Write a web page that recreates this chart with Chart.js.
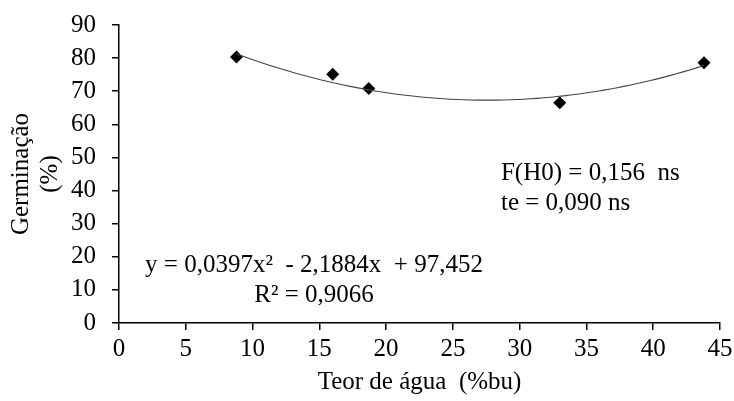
<!DOCTYPE html>
<html>
<head>
<meta charset="utf-8">
<script src="https://cdn.jsdelivr.net/npm/chart.js@4/dist/chart.umd.min.js"></script>
<style>
  html, body { margin: 0; padding: 0; background: #fff; }
  #wrap { width: 734px; height: 401px; position: relative; }
</style>
</head>
<body>
<div id="wrap"><canvas id="c"></canvas></div>
<script>
  // germination vs. seed water content, with the fitted quadratic
  var waterContent = [8.8, 16.0, 18.7, 33.0, 43.8];
  var germination = [80.3, 75.1, 70.8, 66.5, 78.6];
  // y = c0 + c1*x + c2*x^2 (coefficients as printed on the chart)
  var trendCoef = [97.452, -2.1884, 0.0397];
  var xTicks = [0, 5, 10, 15, 20, 25, 30, 35, 40, 45];
  var yTicks = [0, 10, 20, 30, 40, 50, 60, 70, 80, 90];

  var eqLabel = 'y = 0,0397x²  - 2,1884x  + 97,452';
  var r2Label = 'R² = 0,9066';
  var statLabels = ['F(H0) = 0,156  ns', 'te = 0,090 ns'];

  var FONT = '"Liberation Serif", "Times New Roman", serif';
  var FS = 25;

  function trendAt(x) {
    return trendCoef[0] + trendCoef[1] * x + trendCoef[2] * x * x;
  }

  // trendline spans the measured range only
  var trendPts = [];
  var x0 = waterContent[0], x1 = waterContent[waterContent.length - 1];
  for (var i = 0; i <= 70; i++) {
    var x = x0 + (x1 - x0) * i / 70;
    trendPts.push({ x: x, y: trendAt(x) });
  }

  var points = waterContent.map(function (x, i) { return { x: x, y: germination[i] }; });

  // text annotations placed in data coordinates
  var notes = {
    id: 'notes',
    afterDatasetsDraw: function (chart) {
      var ctx = chart.ctx, xs = chart.scales.x, ys = chart.scales.y;
      ctx.save();
      ctx.font = FS + 'px ' + FONT;
      ctx.fillStyle = '#000';
      ctx.textBaseline = 'middle';
      ctx.textAlign = 'center';
      ctx.fillText(eqLabel, xs.getPixelForValue(14.6), ys.getPixelForValue(17.5));
      ctx.fillText(r2Label, xs.getPixelForValue(14.6), ys.getPixelForValue(8.4));
      ctx.textAlign = 'left';
      ctx.fillText(statLabels[0], xs.getPixelForValue(28.6), ys.getPixelForValue(45.3));
      ctx.fillText(statLabels[1], xs.getPixelForValue(28.6), ys.getPixelForValue(36.2));
      ctx.restore();
    }
  };

  new Chart(document.getElementById('c'), {
    type: 'scatter',
    data: {
      datasets: [
        {
          type: 'line',
          data: trendPts,
          borderColor: '#444',
          borderWidth: 1.1,
          pointRadius: 0,
          fill: false,
          tension: 0
        },
        {
          data: points,
          pointStyle: 'rectRot',
          pointRadius: 6.5,
          backgroundColor: '#000',
          borderColor: '#000',
          borderWidth: 0
        }
      ]
    },
    options: {
      responsive: true,
      maintainAspectRatio: false,
      animation: false,
      layout: { padding: { top: 25, right: 14, left: 0, bottom: 0 } },
      plugins: { legend: { display: false }, tooltip: { enabled: false } },
      scales: {
        x: {
          type: 'linear',
          min: 0, max: 45,
          afterBuildTicks: function (s) { s.ticks = xTicks.map(function (v) { return { value: v }; }); },
          afterFit: function (s) { s.height = 78; s.paddingLeft = 0; s.paddingRight = 0; },
          grid: { drawOnChartArea: false, tickLength: 7, color: '#000', lineWidth: 1.5 },
          border: { color: '#000', width: 1.5 },
          ticks: { color: '#000', font: { family: FONT, size: FS }, padding: 4, maxRotation: 0, autoSkip: false },
          title: { display: true, text: 'Teor de água  (%bu)', color: '#000',
                   font: { family: FONT, size: FS }, padding: { top: 2, bottom: 4 } }
        },
        y: {
          min: 0, max: 90,
          afterBuildTicks: function (s) { s.ticks = yTicks.map(function (v) { return { value: v }; }); },
          afterFit: function (s) { s.width = 119; s.paddingTop = 0; s.paddingBottom = 0; },
          grid: { drawOnChartArea: false, tickLength: 7, color: '#000', lineWidth: 1.5 },
          border: { color: '#000', width: 1.5 },
          ticks: { color: '#000', font: { family: FONT, size: FS }, padding: 16, autoSkip: false },
          title: { display: true, text: ['Germinação', '(%)'], color: '#000',
                   font: { family: FONT, size: FS, lineHeight: 1.15 }, padding: { top: 7, bottom: 0 } }
        }
      }
    },
    plugins: [notes]
  });
</script>
</body>
</html>
